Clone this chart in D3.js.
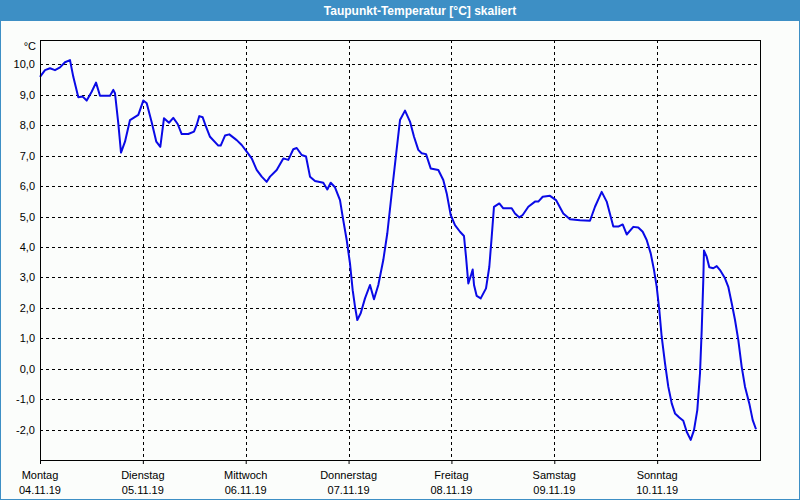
<!DOCTYPE html>
<html>
<head>
<meta charset="utf-8">
<script src="https://cdn.jsdelivr.net/npm/d3@7"></script>
<style>
  html, body { margin: 0; padding: 0; background: #fbfdfb; }
  svg { display: block; }
</style>
</head>
<body>
<svg id="chart" width="800" height="500"></svg>
<script>
// ---- data ----
const chartTitle = "Taupunkt-Temperatur [°C] skaliert";
const unitLabel = "°C";
const dayNames = ["Montag", "Dienstag", "Mittwoch", "Donnerstag", "Freitag", "Samstag", "Sonntag"];
const dayDates = ["04.11.19", "05.11.19", "06.11.19", "07.11.19", "08.11.19", "09.11.19", "10.11.19"];
const yTicks = [-2, -1, 0, 1, 2, 3, 4, 5, 6, 7, 8, 9, 10];
// hours since Monday 04.11.19 00:00
const hours = [
  0, 1.17, 2.33, 3.5, 4.67, 5.83, 7.0, 7.77, 8.94, 9.96, 10.9, 12.06, 13.07, 14.0, 16.33, 17.1, 17.5,
  18.27, 18.9, 19.83, 21.0, 22.94, 24.1, 24.9, 26.06, 27.14, 28.07, 28.93, 30.1, 31.1, 32.13, 33.06,
  34.6, 35.93, 36.56, 37.17, 37.96, 38.73, 39.67, 41.6, 42.16, 43.17, 44.17, 45.9, 47.06, 48.23, 49.4,
  50.56, 51.73, 52.9, 53.67, 55.23, 56.77, 57.94, 59.1, 59.9, 61.06, 62.07, 63.0, 64.17, 66.1, 67.04,
  67.83, 68.83, 70.0, 70.63, 71.56, 72.33, 72.96, 73.5, 74.04, 74.83, 75.83, 77.0, 77.93, 78.94, 80.1,
  81.04, 82.06, 83.07, 84.0, 85.17, 86.33, 87.27, 88.27, 89.06, 90.07, 91.16, 92.94, 94.1, 94.9, 95.83,
  96.83, 98.0, 98.93, 99.4, 99.94, 100.5, 100.96, 101.27, 101.9, 102.83, 104.07, 104.84, 105.4, 105.93,
  107.17, 108.1, 110.06, 110.83, 111.84, 112.63, 113.94, 115.5, 116.27, 117.3, 119.0, 120.4, 122.1,
  123.67, 126.0, 128.33, 129.5, 131.06, 132.23, 133.77, 134.94, 135.96, 136.9, 138.44, 139.6, 140.63,
  141.56, 142.5, 143.27, 143.9, 144.5, 145.06, 145.83, 146.6, 147.4, 148.17, 149.17, 150.1, 150.9,
  151.83, 152.6, 153.37, 154.0, 154.4, 154.77, 154.93, 155.56, 156.17, 157.1, 157.9, 158.67, 159.83,
  160.6, 161.4, 162.17, 162.94, 163.73, 164.5, 165.5, 166.3, 167.07
];
const dewPoint = [
  9.59, 9.81, 9.87, 9.81, 9.90, 10.07, 10.14, 9.59, 8.92, 8.94, 8.81, 9.10, 9.40, 8.97, 8.97, 9.16, 9.05,
  8.06, 7.10, 7.46, 8.17, 8.34, 8.81, 8.72, 8.10, 7.46, 7.29, 8.23, 8.08, 8.24, 8.04, 7.71,
  7.71, 7.79, 8.01, 8.30, 8.26, 7.95, 7.62, 7.33, 7.33, 7.66, 7.70, 7.51, 7.35, 7.13, 6.91,
  6.53, 6.31, 6.14, 6.31, 6.53, 6.91, 6.86, 7.21, 7.25, 7.02, 6.97, 6.31, 6.17, 6.11, 5.89,
  6.11, 5.96, 5.54, 4.99, 4.23, 3.46, 2.58, 2.04, 1.60, 1.82, 2.31, 2.75, 2.28, 2.75, 3.57,
  4.45, 5.76, 7.02, 8.17, 8.48, 8.12, 7.62, 7.19, 7.08, 7.05, 6.58, 6.53, 6.20, 5.76, 5.05,
  4.72, 4.50, 4.36, 3.68, 2.80, 3.04, 3.26, 2.75, 2.39, 2.31, 2.64, 3.35, 4.34, 5.32,
  5.43, 5.27, 5.27, 5.10, 4.97, 5.05, 5.32, 5.49, 5.49, 5.65, 5.68, 5.54, 5.10,
  4.91, 4.88, 4.86, 5.32, 5.81, 5.49, 4.67, 4.67, 4.74, 4.41, 4.66, 4.64, 4.50,
  4.23, 3.79, 3.24, 2.69, 1.93, 1.05, 0.18, -0.59, -1.14, -1.47, -1.60, -1.71, -2.07,
  -2.34, -2.02, -1.36, -0.15, 1.27, 2.91, 3.88, 3.68, 3.33, 3.30, 3.37, 3.24, 2.97,
  2.69, 2.15, 1.60, 0.94, 0.06, -0.59, -1.14, -1.69, -1.99
];

// ---- layout ----
const W = 800, H = 500;
const plot = { left: 40, top: 40, right: 760, bottom: 460 };
const frameColor = "#3d8fc5";
const font = "Liberation Sans, Arial, sans-serif";

const svg = d3.select("#chart");

// title bar and window frame
svg.append("rect").attr("x", 0).attr("y", 0).attr("width", W).attr("height", H).attr("fill", "#fbfdfb");
svg.append("rect").attr("x", 0).attr("y", 0).attr("width", W).attr("height", 21).attr("fill", frameColor);
svg.append("rect").attr("x", 0.5).attr("y", 0.5).attr("width", W - 1).attr("height", H - 1)
  .attr("fill", "none").attr("stroke", frameColor).attr("stroke-width", 1);
svg.append("text").attr("x", 420).attr("y", 15).attr("text-anchor", "middle")
  .attr("font-family", font).attr("font-weight", "bold").attr("font-size", 12)
  .attr("fill", "#ffffff").text(chartTitle);

const x = d3.scaleLinear().domain([0, 168]).range([plot.left, plot.right]);
const y = d3.scaleLinear().domain([-3, 10.8]).range([plot.bottom, plot.top]);

const g = svg.append("g");

// horizontal grid
g.selectAll("line.hgrid").data(yTicks).enter().append("line")
  .attr("class", "hgrid")
  .attr("x1", plot.left).attr("x2", plot.right)
  .attr("y1", d => Math.round(y(d)) + 0.5).attr("y2", d => Math.round(y(d)) + 0.5)
  .attr("stroke", "#000").attr("stroke-width", 1).attr("stroke-dasharray", "3,3");

// vertical grid (days)
const dayIdx = d3.range(dayNames.length);
g.selectAll("line.vgrid").data(dayIdx.slice(1)).enter().append("line")
  .attr("class", "vgrid")
  .attr("x1", d => Math.round(x(d * 24)) + 0.5).attr("x2", d => Math.round(x(d * 24)) + 0.5)
  .attr("y1", plot.top).attr("y2", plot.bottom)
  .attr("stroke", "#000").attr("stroke-width", 1).attr("stroke-dasharray", "3,3");

// y axis labels
const yAxis = d3.axisLeft(y).tickValues(yTicks).tickSize(0).tickPadding(5)
  .tickFormat(d => d3.format(".1f")(d).replace(".", ",").replace("−", "-"));
const yg = svg.append("g").attr("transform", `translate(${plot.left},0)`).call(yAxis);
yg.select(".domain").remove();
yg.selectAll("text").attr("font-family", font).attr("font-size", 11).attr("fill", "#000");

svg.append("text").attr("x", 36).attr("y", 50).attr("text-anchor", "end")
  .attr("font-family", font).attr("font-size", 11).attr("fill", "#000").text(unitLabel);

// x axis ticks + labels
const xAxis = d3.axisBottom(x).tickValues(dayIdx.map(d => d * 24)).tickSize(4).tickFormat("");
const xg = svg.append("g").attr("transform", `translate(0,${plot.bottom})`).call(xAxis);
xg.select(".domain").remove();
xg.selectAll("line").attr("stroke", "#000");

svg.selectAll("text.dayname").data(dayIdx).enter().append("text")
  .attr("class", "dayname")
  .attr("x", d => x(d * 24)).attr("y", 479).attr("text-anchor", "middle")
  .attr("font-family", font).attr("font-size", 11).attr("fill", "#000")
  .text(d => dayNames[d]);
svg.selectAll("text.daydate").data(dayIdx).enter().append("text")
  .attr("class", "daydate")
  .attr("x", d => x(d * 24)).attr("y", 494).attr("text-anchor", "middle")
  .attr("font-family", font).attr("font-size", 11).attr("fill", "#000")
  .text(d => dayDates[d]);

// data line
const points = hours.map((h, i) => [h, dewPoint[i]]);
const line = d3.line().x(d => x(d[0])).y(d => y(d[1]));
svg.append("path").datum(points)
  .attr("d", line)
  .attr("fill", "none").attr("stroke", "#0a0ae6").attr("stroke-width", 2)
  .attr("stroke-linejoin", "round");

// plot frame
svg.append("rect")
  .attr("x", plot.left + 0.5).attr("y", plot.top + 0.5)
  .attr("width", plot.right - plot.left).attr("height", plot.bottom - plot.top)
  .attr("fill", "none").attr("stroke", "#000").attr("stroke-width", 1);
</script>
</body>
</html>
